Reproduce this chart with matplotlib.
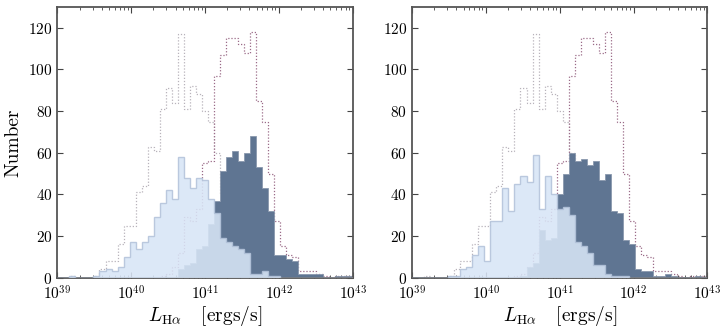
import numpy as np
import matplotlib
matplotlib.use("Agg")
import matplotlib.pyplot as plt

# ---------------------------------
# histogram counts, 49 log bins 10^39 .. 10^43
# ---------------------------------
log_edges = np.linspace(39, 43, 50)

# full populations (dotted), same in both panels
low_all = [0, 0, 1, 0, 0, 0, 1, 4, 8, 8,
           16, 25, 25, 41, 44, 63, 61, 81, 91, 84,
           117, 81, 92, 88, 80, 75, 60, 40, 32, 24,
           18, 12, 8, 6, 3, 2, 1, 0, 0, 0,
           0, 0, 0, 0, 0, 0, 0, 0, 0]
high_all = [0, 0, 0, 0, 0, 0, 0, 0, 0, 0,
            0, 0, 0, 0, 0, 0, 0, 1, 2, 5,
            12, 29, 27, 33, 55, 56, 97, 107, 115, 115,
            112, 108, 118, 85, 75, 50, 27, 15, 11, 10,
            3, 3, 3, 2, 1, 0, 1, 1, 1]

# left panel subsets
left_low = [0, 0, 1, 0, 0, 0, 1, 3, 4, 3,
            5, 10, 17, 14, 17, 20, 29, 36, 42, 38,
            58, 48, 43, 48, 47, 38, 31, 19, 17, 15,
            14, 12, 2, 2, 3, 1, 1, 0, 0, 0,
            0, 0, 0, 0, 0, 0, 0, 0, 0]
left_high = [0, 0, 0, 0, 0, 0, 0, 0, 0, 0,
             0, 0, 0, 0, 0, 0, 0, 0, 0, 0,
             4, 6, 7, 14, 15, 26, 37, 51, 58, 61,
             56, 60, 68, 53, 43, 32, 11, 11, 9, 8,
             2, 2, 2, 2, 0, 0, 1, 1, 1]

# right panel subsets
right_low = [0, 0, 0, 0, 0, 0, 1, 1, 4, 5,
             11, 15, 8, 27, 27, 43, 32, 45, 49, 46,
             59, 33, 49, 40, 33, 34, 30, 17, 15, 12,
             6, 6, 2, 1, 1, 1, 0, 0, 0, 0,
             0, 0, 0, 0, 0, 0, 0, 0, 0]
right_high = [0, 0, 0, 0, 0, 0, 0, 0, 0, 0,
              0, 0, 0, 0, 0, 0, 0, 0, 1, 5,
              7, 23, 18, 19, 40, 50, 60, 56, 57, 54,
              56, 47, 50, 32, 31, 18, 16, 4, 3, 3,
              1, 1, 2, 1, 0, 0, 0, 1, 0]

edges = 10 ** log_edges
centers = 10 ** (0.5 * (log_edges[:-1] + log_edges[1:]))

plt.rcParams["font.family"] = "serif"
plt.rcParams["font.serif"] = ["cmr10"]
plt.rcParams["mathtext.fontset"] = "cm"
plt.rcParams["axes.formatter.use_mathtext"] = True

LIGHT = "#d8e5f6"
LIGHT_EDGE = "#b3c3da"
DARK = "#5f7592"
GREY_DOT = "#b8b3bb"
PURPLE_DOT = "#9b6b88"

fig = plt.figure(figsize=(7.27, 3.28), dpi=100)
ax1 = fig.add_axes([0.0788, 0.1534, 0.4063, 0.8253])
ax2 = fig.add_axes([0.5667, 0.1534, 0.4063, 0.8253])

panels = [(ax1, left_low, left_high), (ax2, right_low, right_high)]
for ax, low, high in panels:
    ax.hist(centers, bins=edges, weights=low_all, histtype="step",
            color=GREY_DOT, linestyle=(0, (1, 1.5)), linewidth=0.9, zorder=1)
    ax.hist(centers, bins=edges, weights=high_all, histtype="step",
            color=PURPLE_DOT, linestyle=(0, (1, 1.5)), linewidth=0.9, zorder=1)
    ax.hist(centers, bins=edges, weights=high, histtype="stepfilled",
            facecolor=DARK, edgecolor="#8a98ad", linewidth=0.6, zorder=2)
    ax.hist(centers, bins=edges, weights=low, histtype="stepfilled",
            facecolor=LIGHT, edgecolor=LIGHT_EDGE, linewidth=1.0,
            alpha=0.88, zorder=3)

    ax.set_xscale("log")
    ax.set_xlim(1e39, 1e43)
    ax.set_ylim(0, 130)
    ax.set_yticks([0, 20, 40, 60, 80, 100, 120])
    ax.tick_params(which="both", direction="in", top=True, right=True,
                   labelsize=11, color="#444444")
    ax.tick_params(which="major", length=4, width=0.8)
    ax.tick_params(which="minor", length=2, width=0.6)
    ax.tick_params(axis="x", which="major", pad=5)
    for s in ax.spines.values():
        s.set_linewidth(1.3)
        s.set_color("#555555")
    ax.set_xlabel(r"$L_{\rm H\alpha}$   [ergs/s]", fontsize=14, labelpad=1)

ax1.set_ylabel("Number", fontsize=14)

fig.savefig("out.png", dpi=100)
